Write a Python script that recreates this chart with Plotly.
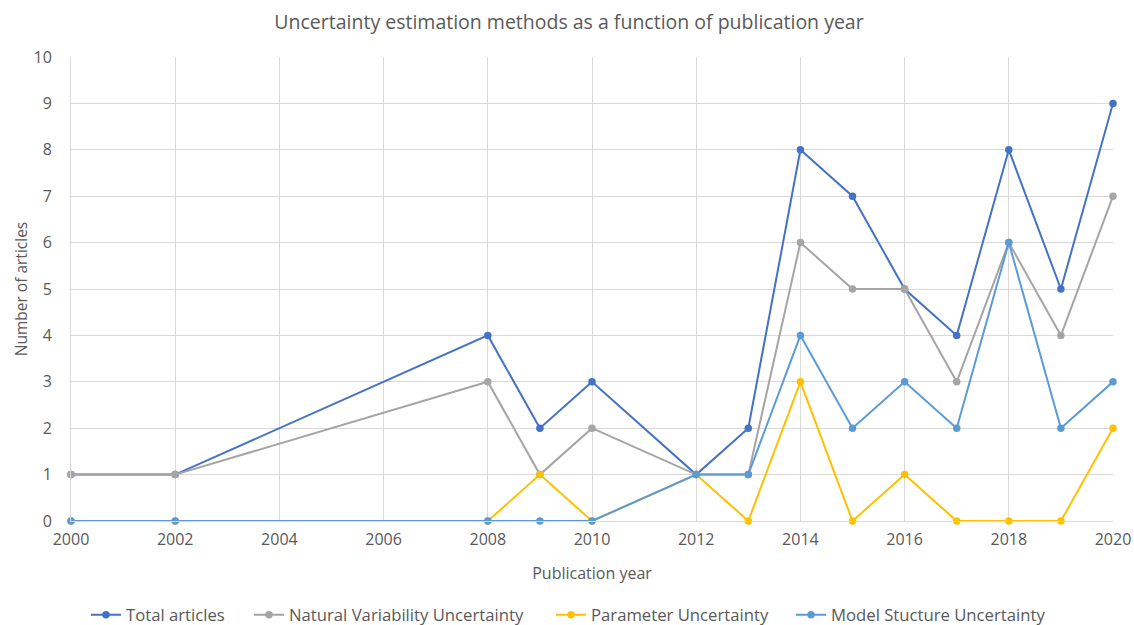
import plotly.graph_objects as go

years = [2000, 2002, 2008, 2009, 2010, 2012, 2013, 2014, 2015, 2016, 2017, 2018, 2019, 2020]
total = [1, 1, 4, 2, 3, 1, 2, 8, 7, 5, 4, 8, 5, 9]
natural = [1, 1, 3, 1, 2, 1, 1, 6, 5, 5, 3, 6, 4, 7]
parameter = [0, 0, 0, 1, 0, 1, 0, 3, 0, 1, 0, 0, 0, 2]
model = [0, 0, 0, 0, 0, 1, 1, 4, 2, 3, 2, 6, 2, 3]

series = [
    ("Total articles", total, "#4472C4"),
    ("Natural Variability Uncertainty", natural, "#A5A5A5"),
    ("Parameter Uncertainty", parameter, "#FFC000"),
    ("Model Stucture Uncertainty", model, "#5B9BD5"),
]
legend_x_px = [86, 249, 551, 791]

W, H = 1134, 625
fig = go.Figure()
for i, (name, vals, col) in enumerate(series):
    lg = "legend" if i == 0 else f"legend{i+1}"
    fig.add_trace(go.Scatter(
        x=years, y=vals, name=name, mode="lines+markers",
        line=dict(color=col, width=2),
        marker=dict(color=col, size=7.5),
        cliponaxis=False, legend=lg,
    ))

legend_font = dict(family="Open Sans, sans-serif", size=16.7, color="#595959")
layout_legends = {}
for i, xp in enumerate(legend_x_px):
    key = "legend" if i == 0 else f"legend{i+1}"
    layout_legends[key] = dict(
        orientation="h", xref="container", yref="container",
        x=xp / W, xanchor="left", y=1 - 615 / H, yanchor="middle",
        font=legend_font, itemwidth=30, bgcolor="rgba(0,0,0,0)",
    )

font_family = "Open Sans, sans-serif"
fig.update_layout(
    width=W, height=H,
    margin=dict(l=71, r=21, t=57, b=104, autoexpand=False),
    paper_bgcolor="white", plot_bgcolor="white",
    font=dict(family=font_family, color="#595959", size=16),
    title=dict(text="Uncertainty estimation methods as a function of publication year",
               x=569 / W, xanchor="center", xref="container",
               yref="container", y=1 - 22 / H, yanchor="middle",
               font=dict(size=19.5, color="#595959")),
    xaxis=dict(range=[2000, 2020], dtick=2, tick0=2000, showgrid=True,
               gridcolor="#D9D9D9", gridwidth=1, showline=True, linecolor="#D9D9D9",
               zeroline=False, ticks="", tickfont=dict(size=16), automargin=False,
               ticklabelstandoff=4,
               title=dict(text="Publication year", font=dict(size=16), standoff=18)),
    yaxis=dict(range=[0, 10], dtick=1, showgrid=True, gridcolor="#D9D9D9",
               showline=True, linecolor="#D9D9D9", zeroline=False, ticks="",
               tickfont=dict(size=16), ticklabelstandoff=15, automargin=False,
               title=dict(text="Number of articles", font=dict(size=15.5), standoff=2)),
    showlegend=True,
    **layout_legends,
)

fig.write_html(
    "out.html",
    config={"displayModeBar": False},
    post_script="document.body.style.margin='0';document.body.style.overflow='hidden';",
)
